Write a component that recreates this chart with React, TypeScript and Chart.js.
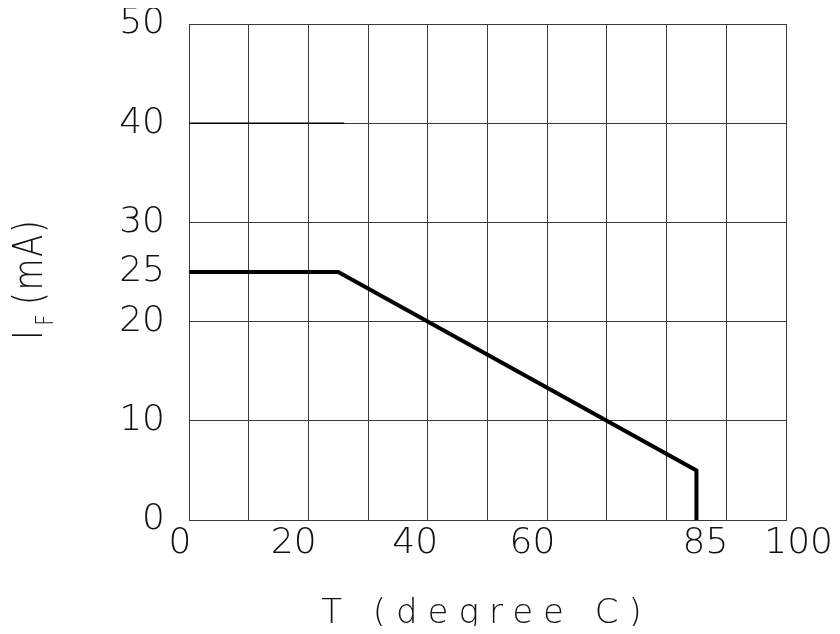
import React, { useEffect, useRef } from 'react';
import { Chart, registerables } from 'chart.js';
Chart.register(...registerables);

// Derating curve: forward current vs ambient temperature
const deratingT = [0, 25, 85, 85];
const deratingIF = [25, 25, 5, 0];
// Upper (peak) limit segment
const peakT = [0, 26];
const peakIF = [40, 40];

const xTicks = [0, 10, 20, 30, 40, 50, 60, 70, 80, 85, 90, 100];
const xLabelTicks = [0, 20, 40, 60, 85, 100];
const xGridTicks = [0, 10, 20, 30, 40, 50, 60, 70, 80, 90, 100];
const yTicks = [0, 10, 20, 25, 30, 40, 50];
const yGridTicks = [0, 10, 20, 30, 40, 50];

const xTitle = 'T (degree C)';
const yTitleMain = 'I';
const yTitleSub = 'F';
const yTitleRest = '(mA)';

const FONT_FAMILY = '"DejaVu Sans", "Liberation Sans", sans-serif';
const GRID_COLOR = '#3a3a3a';

// whitespace used to nudge the hand-placed x labels
const EN = '\u2002';
const THIN = '\u2009';
function xLabel(v: number): string {
  const s = String(v);
  if (v === 0) return s + EN;
  if (v === 20) return s + EN + ' ';
  if (v === 40) return s + EN + THIN;
  if (v === 60) return s + EN + ' ';
  if (v === 85) return EN + s;
  if (v === 100) return EN + THIN + s;
  return s;
}

const titlePlugin = {
  id: 'axisTitles',
  afterDraw(chart: any) {
    const ctx = chart.ctx as CanvasRenderingContext2D;
    const area = chart.chartArea;
    ctx.save();
    ctx.fillStyle = '#111';
    // x title
    (ctx as any).letterSpacing = '10px';
    ctx.font = `200 34px ${FONT_FAMILY}`;
    ctx.textAlign = 'center';
    ctx.textBaseline = 'alphabetic';
    ctx.fillText(xTitle, (area.left + area.right) / 2 - 1, 615);
    // y title (rotated, with subscript)
    ctx.translate(34, 0);
    ctx.rotate(-Math.PI / 2);
    ctx.scale(0.8, 1);
    (ctx as any).letterSpacing = '2px';
    ctx.textAlign = 'left';
    let pos = -332 / 0.8;
    ctx.font = `200 41px ${FONT_FAMILY}`;
    ctx.fillText(yTitleMain, pos, 0);
    pos += ctx.measureText(yTitleMain).width + 4;
    ctx.font = `200 24px ${FONT_FAMILY}`;
    ctx.fillText(yTitleSub, pos, 11);
    pos += ctx.measureText(yTitleSub).width + 10;
    ctx.font = `200 41px ${FONT_FAMILY}`;
    ctx.fillText(yTitleRest, pos, 0);
    ctx.restore();
  },
};

export default function App() {
  const ref = useRef<HTMLCanvasElement | null>(null);
  useEffect(() => {
    if (!ref.current) return;
    const chart = new Chart(ref.current, {
      type: 'line',
      data: {
        datasets: [
          {
            data: deratingT.map((t, i) => ({ x: t, y: deratingIF[i] })),
            borderColor: '#000',
            borderWidth: 4,
            pointRadius: 0,
            fill: false,
            tension: 0,
          },
          {
            data: peakT.map((t, i) => ({ x: t, y: peakIF[i] })),
            borderColor: '#000',
            borderWidth: 1.5,
            pointRadius: 0,
            fill: false,
            tension: 0,
          },
        ],
      },
      options: {
        responsive: false,
        animation: false,
        layout: { padding: { top: 16, right: 54, left: 0, bottom: 0 } },
        plugins: { legend: { display: false }, tooltip: { enabled: false } },
        scales: {
          x: {
            type: 'linear',
            min: 0,
            max: 100,
            afterBuildTicks: (s: any) => {
              s.ticks = xTicks.map((v) => ({ value: v }));
            },
            afterFit: (s: any) => {
              s.height = 106;
              s.paddingLeft = 0;
              s.paddingRight = 0;
              s.paddingTop = 0;
              s.paddingBottom = 0;
            },
            grid: {
              color: (c: any) => (c.tick && xGridTicks.includes(c.tick.value) ? GRID_COLOR : 'rgba(0,0,0,0)'),
              lineWidth: 1,
              drawTicks: false,
            },
            border: { color: GRID_COLOR, width: 1 },
            ticks: {
              autoSkip: false,
              maxRotation: 0,
              minRotation: 0,
              padding: 6,
              color: '#111',
              font: { family: FONT_FAMILY, size: 36, weight: '200' as any, lineHeight: 1 },
              callback: (v: any) => (xLabelTicks.includes(Number(v)) ? xLabel(Number(v)) : ''),
            },
          },
          y: {
            type: 'linear',
            min: 0,
            max: 50,
            afterBuildTicks: (s: any) => {
              s.ticks = yTicks.map((v) => ({ value: v }));
            },
            afterFit: (s: any) => {
              s.width = 181;
              s.paddingLeft = 0;
              s.paddingRight = 0;
              s.paddingTop = 0;
              s.paddingBottom = 0;
            },
            grid: {
              color: (c: any) => (c.tick && yGridTicks.includes(c.tick.value) ? GRID_COLOR : 'rgba(0,0,0,0)'),
              lineWidth: 1,
              drawTicks: false,
            },
            border: { color: GRID_COLOR, width: 1 },
            ticks: {
              autoSkip: false,
              padding: 24,
              color: '#111',
              font: { family: FONT_FAMILY, size: 36, weight: '200' as any, lineHeight: 1 },
              callback: (v: any) => String(v),
            },
          },
        },
      },
      plugins: [titlePlugin],
    });
    return () => chart.destroy();
  }, []);
  return (
    <div style={{ width: 832, height: 618 }}>
      <canvas ref={ref} width={832} height={618} style={{ display: 'block' }} />
    </div>
  );
}
